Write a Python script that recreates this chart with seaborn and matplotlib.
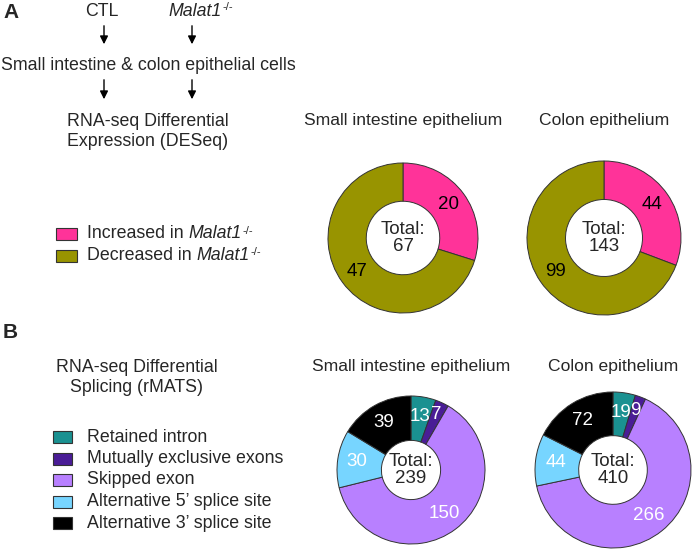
import matplotlib
matplotlib.use("Agg")
import matplotlib.pyplot as plt
import seaborn as sns
import numpy as np
from matplotlib.patches import Rectangle

# Dados
de_labels = ["Increased in ", "Decreased in "]
de_colors = ["#FF3399", "#989400"]
de_small = [20, 47]
de_colon = [44, 99]

sp_labels = ["Retained intron", "Mutually exclusive exons", "Skipped exon",
             "Alternative 5\u2019 splice site", "Alternative 3\u2019 splice site"]
sp_colors = ["#1A9191", "#4A1D96", "#B880FF", "#77D5FF", "#000000"]
sp_small = [13, 7, 150, 30, 39]
sp_colon = [19, 9, 266, 44, 72]

titles = ["Small intestine epithelium", "Colon epithelium"]

sns.set_theme(style="white")
plt.rcParams['font.family'] = ['Liberation Sans', 'DejaVu Sans']

W, H = 692, 551
fig = plt.figure(figsize=(W / 100, H / 100), dpi=100)

# eixo de fundo em pixels para textos e setas
bg = fig.add_axes([0, 0, 1, 1])
bg.set_xlim(0, W)
bg.set_ylim(H, 0)
bg.axis('off')

fs = 12.8      # textos gerais
fs_d = 13.5    # numeros das roscas


def malat(anchor):
    # "Malat1" em italico + sobrescrito -/-
    t = bg.annotate("Malat1", xy=(1.0, 0.5), xycoords=anchor, fontsize=fs,
                    style='italic', ha='left', va='center')
    bg.annotate("-/-", xy=(1.02, 1.0), xycoords=t, fontsize=8, ha='left', va='top')
    return t


# ---------------- Painel A: esquema ----------------
bg.text(3, 13, "A", fontsize=15, fontweight='bold', va='center', ha='left')
bg.text(102, 11, "CTL", fontsize=fs, ha='center', va='center')
tm = bg.text(195, 11, "Malat1", fontsize=fs, style='italic', ha='center', va='center')
bg.annotate("-/-", xy=(1.02, 1.0), xycoords=tm, fontsize=8, ha='left', va='top')
for x in [104, 192]:
    bg.annotate("", xy=(x, 47), xytext=(x, 23),
                arrowprops=dict(arrowstyle='-|>', color='black', lw=1, mutation_scale=12))
    bg.annotate("", xy=(x, 102), xytext=(x, 77),
                arrowprops=dict(arrowstyle='-|>', color='black', lw=1, mutation_scale=12))
bg.text(148, 66, "Small intestine & colon epithelial cells", fontsize=fs, ha='center', va='center')
bg.text(148, 121, "RNA-seq Differential", fontsize=fs, ha='center', va='center')
bg.text(148, 142, "Expression (DESeq)", fontsize=fs, ha='center', va='center')

# legenda A
for i, (lab, col) in enumerate(zip(de_labels, de_colors)):
    y = 234 + i * 21.5
    bg.add_patch(Rectangle((56, y - 6), 21, 12, facecolor=col, edgecolor='#333333', lw=0.8))
    t = bg.text(87, y, lab, fontsize=fs, ha='left', va='center')
    malat(t)

# ---------------- Painel B: esquema ----------------
bg.text(3, 333, "B", fontsize=15, fontweight='bold', va='center', ha='left')
bg.text(137, 367, "RNA-seq Differential", fontsize=fs, ha='center', va='center')
bg.text(137, 388, "Splicing (rMATS)", fontsize=fs, ha='center', va='center')

for i, (lab, col) in enumerate(zip(sp_labels, sp_colors)):
    y = 437 + i * 21.5
    bg.add_patch(Rectangle((53, y - 6), 19, 12, facecolor=col, edgecolor='#333333', lw=0.8))
    bg.text(87, y, lab, fontsize=fs, ha='left', va='center')


def donut(cx, cy, r, width, values, colors, label_color, label_dist, title, title_y):
    size = 2.5 * r
    ax = fig.add_axes([(cx - size / 2) / W, 1 - (cy + size / 2) / H, size / W, size / H])
    wedges, texts = ax.pie(values, colors=colors, startangle=90, counterclock=False,
                           labels=[str(v) for v in values], labeldistance=label_dist,
                           textprops=dict(color=label_color, fontsize=fs_d),
                           wedgeprops=dict(width=width, edgecolor='#333333', linewidth=0.7))
    total = sum(values)
    for w, t, v in zip(wedges, texts, values):
        # fatias pequenas: numero um pouco mais para fora
        d = label_dist + (0.08 if v / total < 0.03 else 0)
        ang = np.deg2rad((w.theta1 + w.theta2) / 2)
        t.set_position((d * np.cos(ang), d * np.sin(ang)))
        t.set_ha('center')
        t.set_va('center')
    ax.text(0, 0, "Total:\n%d" % total, ha='center', va='center', fontsize=fs_d,
            linespacing=1.05)
    ax.set_xlim(-1.25, 1.25)
    ax.set_ylim(-1.25, 1.25)
    ax.set_aspect('equal')
    bg.text(cx, title_y, title, fontsize=12.6, ha='center', va='center')
    return ax


# ---------------- Roscas A ----------------
donut(403, 238, 75, 0.51, de_small, de_colors, 'black', 0.76, titles[0], 120)
donut(604, 238, 77, 0.50, de_colon, de_colors, 'black', 0.76, titles[1], 120)

# ---------------- Roscas B ----------------
donut(411, 470, 74, 0.60, sp_small, sp_colors, 'white', 0.74, titles[0], 367)
donut(613, 470, 78, 0.56, sp_colon, sp_colors, 'white', 0.74, titles[1], 367)

plt.savefig("out.png", dpi=100)
plt.close()
